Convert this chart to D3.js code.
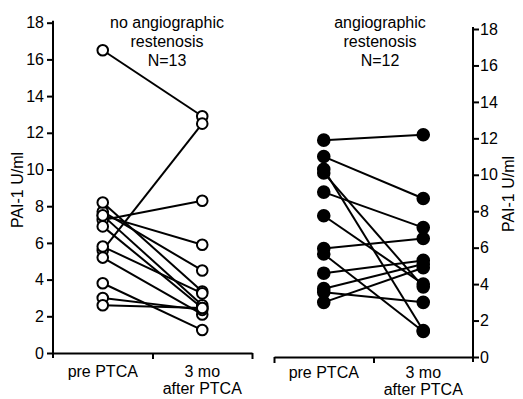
<!DOCTYPE html>
<html>
<head>
<meta charset="utf-8">
<script src="https://cdn.jsdelivr.net/npm/d3@7"></script>
<style>
  body { margin: 0; background: #fff; }
  svg text { font-family: "Liberation Sans", Arial, Helvetica, sans-serif; fill: #000; }
  .axis path, .axis line { stroke: #000; stroke-width: 2; }
  .axis text { font-size: 16px; }
</style>
</head>
<body>
<svg id="chart" width="523" height="399"></svg>
<script>
// categories
var timepoints = ["pre PTCA", "3 mo|after PTCA"];
var yTicks = [0, 2, 4, 6, 8, 10, 12, 14, 16, 18];

// no angiographic restenosis (N=13), PAI-1 U/ml
var noRestPre  = [16.5, 5.6, 7.25, 7.5, 7.7, 8.2, 7.5, 6.9, 5.8, 5.2, 3.8, 3.0, 2.6];
var noRestPost = [12.9, 12.5, 8.3, 5.9, 4.5, 3.35, 2.6, 2.45, 3.25, 2.1, 1.25, 2.35, 2.45];

// angiographic restenosis (N=12), PAI-1 U/ml
var restPre  = [11.9, 11.0, 10.3, 10.1, 9.05, 7.75, 5.95, 5.65, 4.6, 3.75, 3.55, 3.0];
var restPost = [12.2, 8.7, 1.45, 3.85, 7.1, 4.0, 6.5, 1.4, 5.3, 5.1, 3.0, 4.9];

var svg = d3.select("#chart");

function drawPanel(opts) {
  var x = d3.scaleBand().domain(timepoints).range([opts.x0, opts.x1]);
  var y = d3.scaleLinear().domain([0, 18]).range([opts.yBottom, opts.yTop]);

  var g = svg.append("g");

  // x axis: baseline with ticks at band boundaries
  var xb = d3.scaleLinear().domain([0, 2]).range([opts.x0, opts.x1]);
  g.append("g")
    .attr("class", "axis")
    .attr("transform", "translate(0," + opts.yBottom + ")")
    .call(d3.axisBottom(xb).tickValues(opts.xTicks).tickSize(6).tickSizeOuter(0).tickFormat(""));

  // category labels
  timepoints.forEach(function(t) {
    var lines = t.split("|");
    var txt = g.append("text")
      .attr("x", x(t) + x.bandwidth() / 2)
      .attr("y", opts.labelBase)
      .attr("text-anchor", "middle")
      .style("font-size", "16px");
    lines.forEach(function(l, i) {
      txt.append("tspan")
        .attr("x", x(t) + x.bandwidth() / 2)
        .attr("dy", i === 0 ? 0 : 16.5)
        .text(l);
    });
  });

  // y axis
  var yAxis = opts.side === "left" ? d3.axisLeft(y) : d3.axisRight(y);
  var ya = g.append("g")
    .attr("class", "axis")
    .attr("transform", "translate(" + (opts.side === "left" ? opts.x0 : opts.x1) + ",0)")
    .call(yAxis.tickValues(yTicks).tickSize(6).tickSizeOuter(0).tickPadding(opts.side === "left" ? 3 : 1));
  ya.select(".domain").attr("d", "M0," + (opts.yTop - 2) + "V" + (opts.yBottom + 5));

  // y label
  g.append("text")
    .attr("transform", "translate(" + opts.labelX + "," + opts.labelY + ") rotate(-90)")
    .attr("text-anchor", "middle")
    .style("font-size", "16px")
    .text("PAI-1 U/ml");

  // title
  var title = g.append("text")
    .attr("x", opts.titleX)
    .attr("y", 28)
    .attr("text-anchor", "middle")
    .style("font-size", "16px");
  opts.title.forEach(function(l, i) {
    title.append("tspan").attr("x", opts.titleX).attr("dy", i === 0 ? 0 : 19).text(l);
  });

  // paired lines
  var cx0 = x(timepoints[0]) + x.bandwidth() / 2;
  var cx1 = x(timepoints[1]) + x.bandwidth() / 2;
  var pairs = opts.pre.map(function(v, i) { return { pre: v, post: opts.post[i] }; });

  g.selectAll(".pair")
    .data(pairs)
    .enter()
    .append("line")
    .attr("class", "pair")
    .attr("x1", cx0)
    .attr("x2", cx1)
    .attr("y1", function(d) { return y(d.pre); })
    .attr("y2", function(d) { return y(d.post); })
    .attr("stroke", "#000")
    .attr("stroke-width", 2);

  var pts = [];
  pairs.forEach(function(d) {
    pts.push({ x: cx0, v: d.pre });
    pts.push({ x: cx1, v: d.post });
  });

  g.selectAll(".pt")
    .data(pts)
    .enter()
    .append("circle")
    .attr("class", "pt")
    .attr("cx", function(d) { return d.x; })
    .attr("cy", function(d) { return y(d.v); })
    .attr("r", opts.filled ? 5.8 : 5.3)
    .attr("fill", opts.filled ? "#000" : "#fff")
    .attr("stroke", "#000")
    .attr("stroke-width", 2);
}

drawPanel({
  x0: 53, x1: 252, yBottom: 353, yTop: 22.7, side: "left",
  xTicks: [1, 2], labelX: 23, labelY: 190, titleX: 167, labelBase: 377,
  title: ["no angiographic", "restenosis", "N=13"],
  pre: noRestPre, post: noRestPost, filled: false
});

drawPanel({
  x0: 274, x1: 473, yBottom: 357, yTop: 29, side: "right",
  xTicks: [0, 1], labelX: 514, labelY: 194, titleX: 380, labelBase: 378,
  title: ["angiographic", "restenosis", "N=12"],
  pre: restPre, post: restPost, filled: true
});
</script>
</body>
</html>
